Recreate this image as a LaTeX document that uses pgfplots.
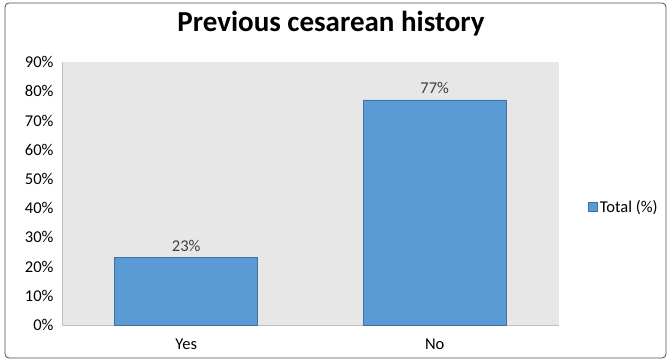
\documentclass[border=0pt]{standalone}
\usepackage{pgfplots}
\pgfplotsset{compat=1.18}
\usepackage{fontspec}
\setmainfont{Carlito}
\definecolor{barblue}{HTML}{5B9BD5}
\definecolor{baredge}{HTML}{41719C}
\definecolor{plotbg}{HTML}{E7E7E7}
\definecolor{axgray}{HTML}{BFBFBF}
\begin{document}
\begin{tikzpicture}[x=1pt,y=1pt]
\useasboundingbox (0,0) rectangle (670,360);
\draw[black!70, rounded corners=4pt, line width=0.8pt] (5,2) rectangle (666,357);
\node[font=\fontsize{29}{32}\selectfont\bfseries] at (331,336) {Previous cesarean history};
\begin{axis}[
  at={(62pt,35pt)}, anchor=south west,
  scale only axis, width=497pt, height=263pt,
  xmin=-0.5, xmax=1.5, ymin=0, ymax=90,
  axis background/.style={fill=plotbg},
  axis x line*=bottom, axis y line*=left,
  separate axis lines,
  y axis line style={draw=axgray},
  x axis line style={draw=axgray},
  xtick={0,1}, xticklabels={Yes,No},
  ytick={0,10,...,90},
  yticklabel={\pgfmathprintnumber{\tick}\%},
  major tick length=0pt,
  tick label style={font=\fontsize{16.5}{18}\selectfont},
  yticklabel style={xshift=-5pt},
  xticklabel style={yshift=-10pt},
  /pgf/number format/assume math mode=true,
  ybar, bar width=143pt,
  nodes near coords={\pgfmathprintnumber{\pgfplotspointmeta}\%},
  nodes near coords style={font=\fontsize{16.5}{18}\selectfont, text=black!75, yshift=3pt},
  legend style={at={(526pt,118pt)}, anchor=west, draw=none, fill=none,
    font=\fontsize{16.5}{18}\selectfont, inner sep=0pt},
  legend image code/.code={\draw[#1] (0pt,-4.5pt) rectangle (9pt,4.5pt);},
  clip=false,
]
\addplot[fill=barblue, draw=baredge, line width=0.6pt] coordinates {(0,23) (1,77)};
\addlegendentry{Total (\%)}
\end{axis}
\end{tikzpicture}
\end{document}
